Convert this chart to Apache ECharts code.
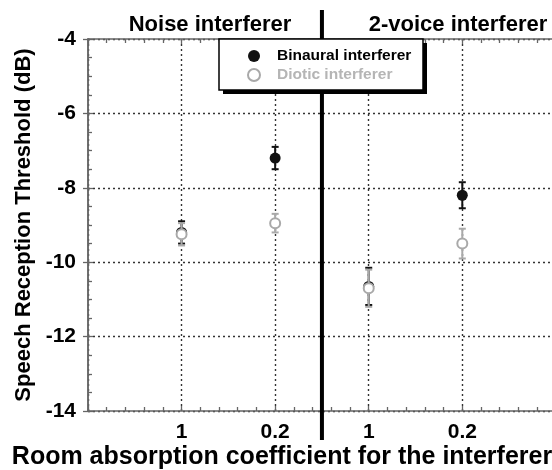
<!DOCTYPE html>
<html>
<head>
<meta charset="utf-8">
<script src="https://cdn.jsdelivr.net/npm/echarts@6/dist/echarts.min.js"></script>
<style>
html,body{margin:0;padding:0;background:#fff;}
#chart{width:552px;height:470px;}
</style>
</head>
<body>
<div id="chart"></div>
<script>
const panelTitles = ['Noise interferer', '2-voice interferer'];
const xAxisTitle = 'Room absorption coefficient for the interferer';
const yAxisTitle = 'Speech Reception Threshold (dB)';
const xPositions = [1, 2, 3, 4];
const xTickLabels = ['1', '0.2', '1', '0.2'];
const binauralMean = [-9.2, -7.2, -10.65, -8.2];
const binauralErr = [0.3, 0.3, 0.5, 0.35];
const dioticMean = [-9.25, -8.95, -10.7, -9.5];
const dioticErr = [0.3, 0.25, 0.5, 0.4];
const dividerX = 2.5;

const FONT = '"Liberation Sans", Arial, sans-serif';
const BLACK = '#111';
const GREY = '#a9a9a9';

function errData(mean, err) {
  return xPositions.map((x, i) => [x, mean[i] - err[i], mean[i] + err[i]]);
}
function ptData(mean) {
  return xPositions.map((x, i) => [x, mean[i]]);
}
function makeErr(color) {
  return function (params, api) {
    const x = api.value(0);
    const lo = api.coord([x, api.value(1)]);
    const hi = api.coord([x, api.value(2)]);
    const hw = 3.5;
    const st = { stroke: color, lineWidth: 2 };
    return {
      type: 'group',
      children: [
        { type: 'line', shape: { x1: lo[0], y1: lo[1], x2: hi[0], y2: hi[1] }, style: st },
        { type: 'line', shape: { x1: lo[0] - hw, y1: lo[1], x2: lo[0] + hw, y2: lo[1] }, style: st },
        { type: 'line', shape: { x1: hi[0] - hw, y1: hi[1], x2: hi[0] + hw, y2: hi[1] }, style: st }
      ]
    };
  };
}

const chart = echarts.init(document.getElementById('chart'), null, { renderer: 'canvas' });

const xMin = 0, xMax = 4.98;
const axisLineStyle = { color: '#666', width: 1.5 };
const gridStyle = { color: '#333', width: 1.4, type: [2, 3] };

const option = {
  backgroundColor: '#fff',
  animation: false,
  textStyle: { fontFamily: FONT },
  title: [
    { text: panelTitles[0], left: 205, top: 9, textAlign: 'center',
      textStyle: { fontSize: 22, fontWeight: 'bold', color: '#000', fontFamily: FONT } },
    { text: panelTitles[1], left: 453, top: 9, textAlign: 'center',
      textStyle: { fontSize: 22, fontWeight: 'bold', color: '#000', fontFamily: FONT } },
    { text: xAxisTitle, left: 277, top: 440, textAlign: 'center',
      textStyle: { fontSize: 25, fontWeight: 'bold', color: '#000', fontFamily: FONT } }
  ],
  grid: { left: 88, right: -2, top: 39, bottom: 59, containLabel: false, outerBoundsMode: 'none' },
  legend: {
    orient: 'vertical',
    left: 219, top: 39,
    z: 10,
    backgroundColor: 'transparent',
    borderWidth: 0,
    padding: [9, 6, 9, 28],
    itemGap: 3,
    itemWidth: 12,
    itemHeight: 12,
    data: [
      { name: 'Binaural interferer', icon: 'circle',
        itemStyle: { color: BLACK, borderWidth: 0 },
        textStyle: { color: '#000', fontWeight: 'bold', fontSize: 15.5, fontFamily: FONT, padding: [0, 0, 0, 12] } },
      { name: 'Diotic interferer', icon: 'circle',
        itemStyle: { color: '#fff', borderColor: GREY, borderWidth: 2 },
        textStyle: { color: '#b5b5b5', fontWeight: 'bold', fontSize: 15.5, fontFamily: FONT, padding: [0, 0, 0, 12] } }
    ]
  },
  xAxis: [
    {
      type: 'value', position: 'bottom', min: xMin, max: xMax, interval: 1,
      axisLine: { show: true, lineStyle: axisLineStyle },
      axisTick: { show: true, inside: true, length: 5, lineStyle: { color: '#666', width: 1.3 } },
      minorTick: { show: true, splitNumber: 5, length: 4, lineStyle: { color: '#666', width: 1.3 } },
      axisLabel: {
        margin: 11, fontSize: 21, fontWeight: 'bold', color: '#000', fontFamily: FONT,
        formatter: function (v) {
          const i = xPositions.indexOf(v);
          return i >= 0 ? xTickLabels[i] : '';
        }
      },
      splitLine: {
        show: true, lineStyle: gridStyle,
        interval: function (idx, v) { return xPositions.indexOf(Number(v)) >= 0; }
      }
    },
    {
      type: 'value', position: 'top', min: xMin, max: xMax, interval: 1,
      axisLine: { show: true, lineStyle: axisLineStyle },
      axisTick: { show: true, inside: true, length: 5, lineStyle: { color: '#666', width: 1.3 } },
      minorTick: { show: true, splitNumber: 5, length: 4, lineStyle: { color: '#666', width: 1.3 } },
      axisLabel: { show: false },
      splitLine: { show: false }
    }
  ],
  yAxis: [
    {
      type: 'value', position: 'left', min: -14, max: -4, interval: 2,
      name: yAxisTitle,
      nameLocation: 'middle', nameGap: 52,
      nameTextStyle: { fontSize: 22, fontWeight: 'bold', color: '#000', fontFamily: FONT },
      axisLine: { show: true, lineStyle: axisLineStyle },
      axisTick: { show: true, inside: true, length: 5, lineStyle: { color: '#666', width: 1.3 } },
      minorTick: { show: true, splitNumber: 4, length: 4, lineStyle: { color: '#666', width: 1.3 } },
      axisLabel: { margin: 12, fontSize: 21, fontWeight: 'bold', color: '#000', fontFamily: FONT },
      splitLine: { show: true, lineStyle: gridStyle }
    },
    {
      type: 'value', position: 'right', min: -14, max: -4, interval: 2,
      axisLine: { show: true, lineStyle: axisLineStyle },
      axisTick: { show: true, inside: true, length: 5, lineStyle: { color: '#666', width: 1.3 } },
      minorTick: { show: false },
      axisLabel: { show: false },
      splitLine: { show: false }
    }
  ],
  series: [
    {
      name: 'Binaural err', type: 'custom', z: 3,
      renderItem: makeErr(BLACK), data: errData(binauralMean, binauralErr),
      encode: { x: 0, y: [1, 2] }
    },
    {
      name: 'Binaural interferer', type: 'scatter', z: 4,
      symbol: 'circle', symbolSize: 11,
      itemStyle: { color: BLACK, opacity: 1 },
      data: ptData(binauralMean)
    },
    {
      name: 'Diotic err', type: 'custom', z: 5,
      renderItem: makeErr(GREY), data: errData(dioticMean, dioticErr),
      encode: { x: 0, y: [1, 2] }
    },
    {
      name: 'Diotic interferer', type: 'scatter', z: 6,
      symbol: 'emptyCircle', symbolSize: 10,
      itemStyle: { color: GREY, borderColor: GREY, borderWidth: 2, opacity: 1 },
      data: ptData(dioticMean)
    }
  ]
};
chart.setOption(option);

// divider between the two panels, placed through the x scale; legend frame with hard shadow
const dx = chart.convertToPixel({ xAxisIndex: 0 }, dividerX);
chart.setOption({
  graphic: [
    { type: 'line', z: 2,
      shape: { x1: dx, y1: 10, x2: dx, y2: 440 },
      style: { stroke: '#000', lineWidth: 4 } },
    { type: 'rect', z: 7,
      shape: { x: 223, y: 43, width: 204, height: 51 },
      style: { fill: '#000' } },
    { type: 'rect', z: 8,
      shape: { x: 219, y: 39, width: 204, height: 51 },
      style: { fill: '#fff', stroke: '#000', lineWidth: 1.5 } }
  ]
});
</script>
</body>
</html>
